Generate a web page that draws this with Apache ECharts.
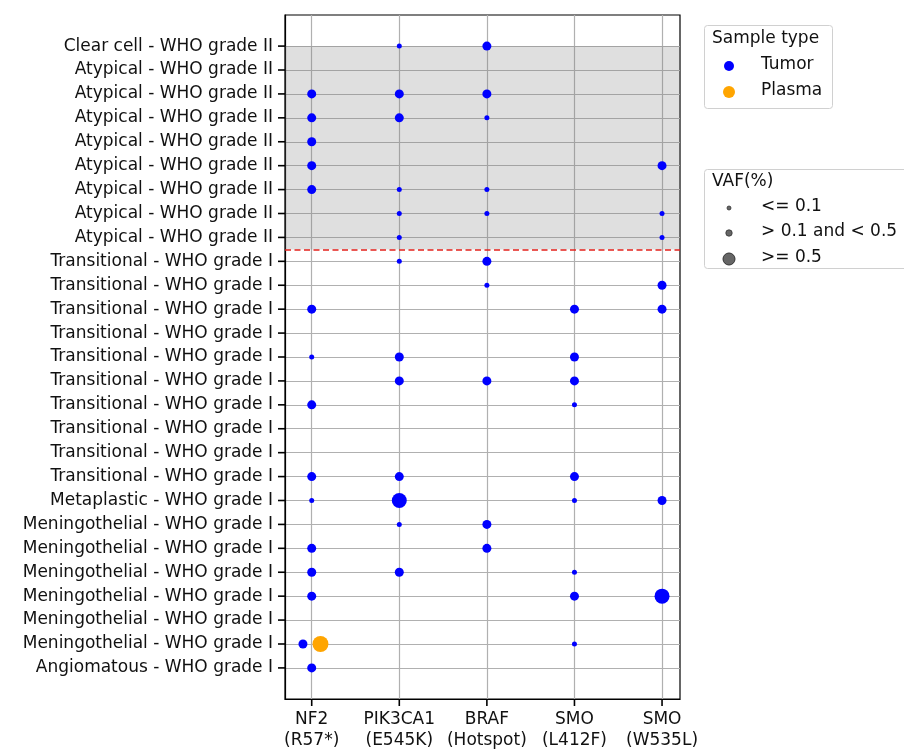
<!DOCTYPE html>
<html>
<head>
<meta charset="utf-8">
<script src="https://cdn.jsdelivr.net/npm/echarts@6/dist/echarts.min.js"></script>
<style>
  html, body { margin: 0; padding: 0; background: #fff; }
  #chart { width: 904px; height: 751px; }
</style>
</head>
<body>
<div id="chart"></div>
<script>
// row labels, top to bottom
const rowLabels = [
  'Clear cell - WHO grade II',
  'Atypical - WHO grade II', 'Atypical - WHO grade II', 'Atypical - WHO grade II',
  'Atypical - WHO grade II', 'Atypical - WHO grade II', 'Atypical - WHO grade II',
  'Atypical - WHO grade II', 'Atypical - WHO grade II',
  'Transitional - WHO grade I', 'Transitional - WHO grade I', 'Transitional - WHO grade I',
  'Transitional - WHO grade I', 'Transitional - WHO grade I', 'Transitional - WHO grade I',
  'Transitional - WHO grade I', 'Transitional - WHO grade I', 'Transitional - WHO grade I',
  'Transitional - WHO grade I',
  'Metaplastic - WHO grade I',
  'Meningothelial - WHO grade I', 'Meningothelial - WHO grade I', 'Meningothelial - WHO grade I',
  'Meningothelial - WHO grade I', 'Meningothelial - WHO grade I', 'Meningothelial - WHO grade I',
  'Angiomatous - WHO grade I'
];

const geneLabels = ['NF2\n(R57*)', 'PIK3CA1\n(E545K)', 'BRAF\n(Hotspot)', 'SMO\n(L412F)', 'SMO\n(W535L)'];

// VAF class: 1 = <= 0.1, 2 = > 0.1 and < 0.5, 3 = >= 0.5
// [gene index, row index, VAF class]
const tumorPoints = [
  [1, 0, 1], [2, 0, 2],
  [0, 2, 2], [1, 2, 2], [2, 2, 2],
  [0, 3, 2], [1, 3, 2], [2, 3, 1],
  [0, 4, 2],
  [0, 5, 2], [4, 5, 2],
  [0, 6, 2], [1, 6, 1], [2, 6, 1],
  [1, 7, 1], [2, 7, 1], [4, 7, 1],
  [1, 8, 1], [4, 8, 1],
  [1, 9, 1], [2, 9, 2],
  [2, 10, 1], [4, 10, 2],
  [0, 11, 2], [3, 11, 2], [4, 11, 2],
  [0, 13, 1], [1, 13, 2], [3, 13, 2],
  [1, 14, 2], [2, 14, 2], [3, 14, 2],
  [0, 15, 2], [3, 15, 1],
  [0, 18, 2], [1, 18, 2], [3, 18, 2],
  [0, 19, 1], [1, 19, 3], [3, 19, 1], [4, 19, 2],
  [1, 20, 1], [2, 20, 2],
  [0, 21, 2], [2, 21, 2],
  [0, 22, 2], [1, 22, 2], [3, 22, 1],
  [0, 23, 2], [3, 23, 2], [4, 23, 3],
  [0, 25, 2], [3, 25, 1],
  [0, 26, 2]
];

const plasmaPoints = [
  [0, 25, 3]
];

const gradeIIRows = 9; // first 9 rows are WHO grade II

const sizeByClass = { 1: 5, 2: 9, 3: 15 };

// when tumor and plasma share a cell, shift them apart
const key = (p) => p[0] + '_' + p[1];
const plasmaKeys = new Set(plasmaPoints.map(key));
const tumorKeys = new Set(tumorPoints.map(key));

const tumorData = tumorPoints.map(p => [p[0] - (plasmaKeys.has(key(p)) ? 0.1 : 0), p[1], p[2]]);
const plasmaData = plasmaPoints.map(p => [p[0] + (tumorKeys.has(key(p)) ? 0.1 : 0), p[1], p[2]]);

const FONT = 'DejaVu Sans';
const FS = 17;
const X_MIN = -0.305, X_MAX = 4.205, Y_MIN = -1.3, Y_MAX = 27.3;
const rowIdx = rowLabels.map((_, i) => i);
const geneIdx = geneLabels.map((_, i) => i);
const legendFont = FS + 'px "DejaVu Sans"';

// outward tick marks, placed through the axes' own scales
const TICK_LEN = 7;
const tickStyle = { stroke: '#000', lineWidth: 1.6 };
const yTicks = rowIdx.map(i => [X_MIN, i]);
const xTicks = geneIdx.map(g => [g, Y_MAX]);

const chart = echarts.init(document.getElementById('chart'), null, { renderer: 'canvas' });

chart.setOption({
  animation: false,
  backgroundColor: '#fff',
  grid: { left: 285, right: 224, top: 15, bottom: 49, show: true, borderColor: '#000', borderWidth: 1.2 },
  xAxis: {
    type: 'value',
    min: X_MIN,
    max: X_MAX,
    axisLine: { show: true, onZero: false, lineStyle: { color: '#000', width: 1.2 } },
    axisTick: { show: false, customValues: geneIdx },
    axisLabel: {
      customValues: geneIdx,
      formatter: (v) => geneLabels[Math.round(v)] || '',
      color: '#111', fontFamily: FONT, fontSize: FS, lineHeight: 21, margin: 10
    },
    splitLine: { show: true, lineStyle: { color: '#b0b0b0', width: 1.2 } }
  },
  yAxis: {
    type: 'value',
    inverse: true,
    min: Y_MIN,
    max: Y_MAX,
    axisLine: { show: true, onZero: false, lineStyle: { color: '#000', width: 1.2 } },
    axisTick: { show: false, customValues: rowIdx },
    axisLabel: {
      customValues: rowIdx,
      formatter: (v) => rowLabels[Math.round(v)] || '',
      color: '#111', fontFamily: FONT, fontSize: FS, margin: 12
    },
    splitLine: { show: true, lineStyle: { color: '#b0b0b0', width: 1.2 } }
  },
  series: [
    {
      name: 'Tumor',
      type: 'scatter',
      data: tumorData,
      symbolSize: (d) => sizeByClass[d[2]],
      itemStyle: { color: '#0000ff', opacity: 1 },
      z: 5,
      markArea: {
        silent: true,
        itemStyle: { color: 'rgba(120,120,120,0.24)' },
        data: [[{ yAxis: 0, x: 285 }, { yAxis: gradeIIRows - 0.5, x: 680 }]]
      },
      markLine: {
        silent: true,
        symbol: 'none',
        label: { show: false },
        lineStyle: { color: '#e3221c', type: [6, 3.5], width: 1.6 },
        data: [[{ yAxis: gradeIIRows - 0.5, x: 285 }, { yAxis: gradeIIRows - 0.5, x: 680 }]]
      }
    },
    {
      name: 'Plasma',
      type: 'scatter',
      data: plasmaData,
      symbolSize: (d) => sizeByClass[d[2]] + 1,
      itemStyle: { color: '#ffa500', opacity: 1 },
      z: 5
    },
    {
      type: 'custom',
      silent: true,
      clip: false,
      z: 10,
      data: yTicks,
      renderItem: (params, api) => {
        const p = api.coord([api.value(0), api.value(1)]);
        return { type: 'line', shape: { x1: p[0] - TICK_LEN, y1: p[1], x2: p[0], y2: p[1] }, style: tickStyle };
      }
    },
    {
      type: 'custom',
      silent: true,
      clip: false,
      z: 10,
      data: xTicks,
      renderItem: (params, api) => {
        const p = api.coord([api.value(0), api.value(1)]);
        return { type: 'line', shape: { x1: p[0], y1: p[1], x2: p[0], y2: p[1] + TICK_LEN }, style: tickStyle };
      }
    }
  ],
  graphic: [
    // Sample type legend
    { type: 'rect', left: 704, top: 25, shape: { width: 128, height: 83, r: 3 }, style: { fill: '#fff', stroke: '#d0d0d0', lineWidth: 1 } },
    { type: 'text', left: 712, top: 30, style: { text: 'Sample type', font: legendFont, fill: '#111' } },
    { type: 'circle', shape: { cx: 729, cy: 66, r: 5 }, style: { fill: '#0000ff' } },
    { type: 'text', left: 761, top: 56, style: { text: 'Tumor', font: legendFont, fill: '#111' } },
    { type: 'circle', shape: { cx: 729, cy: 92, r: 6 }, style: { fill: '#ffa500' } },
    { type: 'text', left: 761, top: 82, style: { text: 'Plasma', font: legendFont, fill: '#111' } },
    // VAF legend
    { type: 'rect', left: 704, top: 169, shape: { width: 210, height: 99, r: 3 }, style: { fill: '#fff', stroke: '#d0d0d0', lineWidth: 1 } },
    { type: 'text', left: 712, top: 173, style: { text: 'VAF(%)', font: legendFont, fill: '#111' } },
    { type: 'circle', shape: { cx: 729, cy: 208, r: 2 }, style: { fill: '#666', stroke: '#333', lineWidth: 0.8 } },
    { type: 'text', left: 761, top: 198, style: { text: '<= 0.1', font: legendFont, fill: '#111' } },
    { type: 'circle', shape: { cx: 729, cy: 233, r: 3.2 }, style: { fill: '#666', stroke: '#333', lineWidth: 0.8 } },
    { type: 'text', left: 761, top: 223, style: { text: '> 0.1 and < 0.5', font: legendFont, fill: '#111' } },
    { type: 'circle', shape: { cx: 729, cy: 259, r: 6 }, style: { fill: '#666', stroke: '#333', lineWidth: 1 } },
    { type: 'text', left: 761, top: 249, style: { text: '>= 0.5', font: legendFont, fill: '#111' } }
  ]
});
</script>
</body>
</html>
